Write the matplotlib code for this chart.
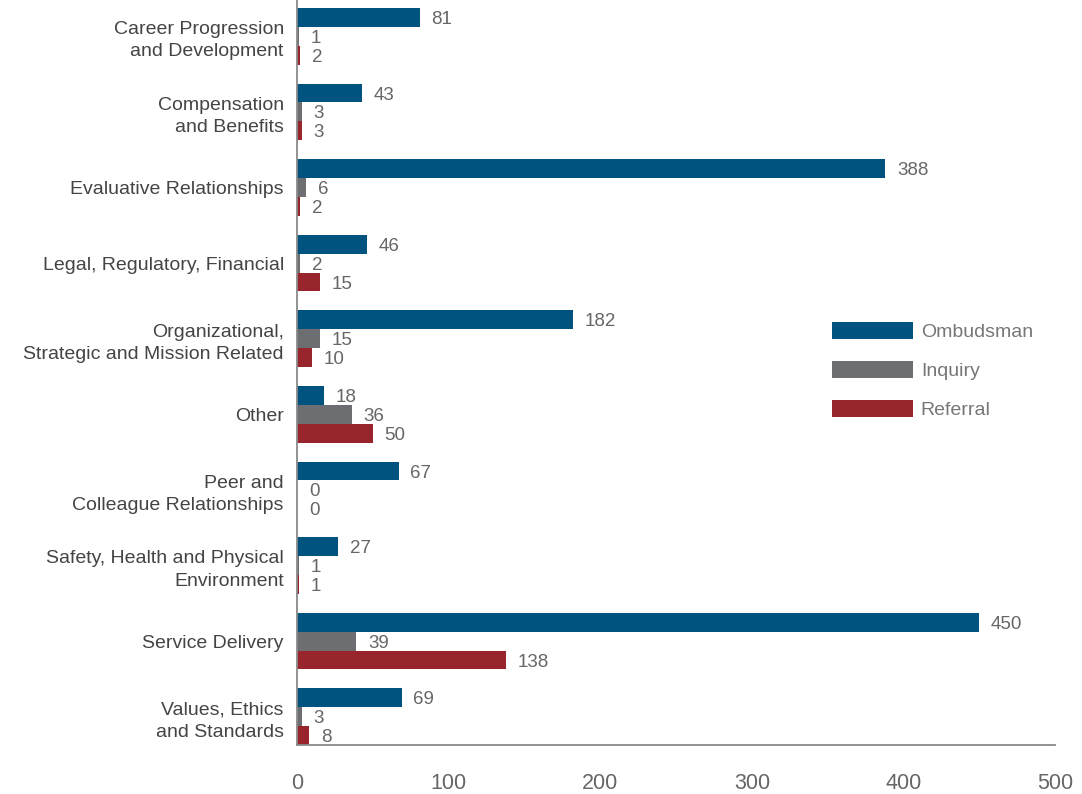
import numpy as np
import matplotlib
matplotlib.use("Agg")
import matplotlib.pyplot as plt

plt.rcParams['font.family'] = ['Liberation Sans', 'DejaVu Sans']

categorias = [
    "Career Progression\nand Development",
    "Compensation\nand Benefits",
    "Evaluative Relationships",
    "Legal, Regulatory, Financial",
    "Organizational,\nStrategic and Mission Related",
    "Other",
    "Peer and\nColleague Relationships",
    "Safety, Health and Physical\nEnvironment",
    "Service Delivery",
    "Values, Ethics\nand Standards",
]
ombudsman = [81, 43, 388, 46, 182, 18, 67, 27, 450, 69]
inquiry = [1, 3, 6, 2, 15, 36, 0, 1, 39, 3]
referral = [2, 3, 2, 15, 10, 50, 0, 1, 138, 8]

series = [
    ("Ombudsman", ombudsman, "#00527f"),
    ("Inquiry", inquiry, "#6d6e71"),
    ("Referral", referral, "#98252b"),
]

fig = plt.figure(figsize=(10.82, 7.94), dpi=100)
ax = fig.add_axes([297 / 1082, 49 / 794, 758 / 1082, 745 / 794])

y = np.arange(len(categorias))
h = 0.25
for k, (nome, valores, cor) in enumerate(series):
    pos = y + (k - 1) * h
    ax.barh(pos, valores, height=h, color=cor, label=nome)
    for p, v in zip(pos, valores):
        ax.annotate(str(v), (v, p), xytext=(8.5, -1.5), textcoords="offset points",
                    va="center", ha="left", fontsize=13.5, color="#666666")

ax.set_ylim(9.375, -0.48)
ax.set_xlim(0, 500)
ax.set_yticks(y)
ax.set_yticklabels(categorias, fontsize=14, color="#444444", linespacing=1.4)
ax.set_xticks([0, 100, 200, 300, 400, 500])
ax.tick_params(axis="x", length=0, pad=20, labelsize=15.5, labelcolor="#666666")
ax.tick_params(axis="y", length=0, pad=9.5)

for lado in ["top", "right"]:
    ax.spines[lado].set_visible(False)
for lado in ["left", "bottom"]:
    ax.spines[lado].set_color("#8a8a8a")
    ax.spines[lado].set_linewidth(1.3)

leg = ax.legend(loc="upper left", bbox_to_anchor=(832 / 1082, 1 - 322 / 794),
                bbox_transform=fig.transFigure, frameon=False, fontsize=14,
                handlelength=4.15, handleheight=1.0, labelspacing=1.0,
                handletextpad=0.42, borderpad=0, borderaxespad=0)
for t in leg.get_texts():
    t.set_color("#777777")

fig.savefig("out.png", dpi=100)
